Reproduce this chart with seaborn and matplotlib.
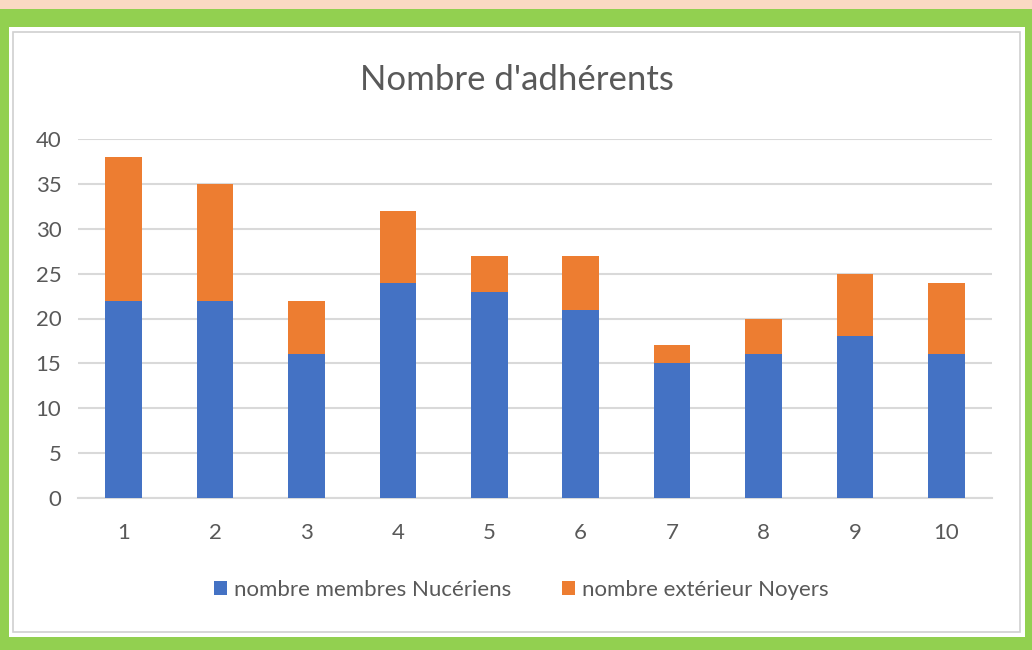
import pandas as pd
import matplotlib.pyplot as plt
import seaborn as sns
from matplotlib.patches import Rectangle

# data
categories = ['1', '2', '3', '4', '5', '6', '7', '8', '9', '10']
nucériens = [22, 22, 16, 24, 23, 21, 15, 16, 18, 16]
exterieur = [16, 13, 6, 8, 4, 6, 2, 4, 7, 8]

df = pd.DataFrame({'groupe': categories, 'nuc': nucériens, 'ext': exterieur})
df['total'] = df['nuc'] + df['ext']

sns.set_style('white')
plt.rcParams['font.family'] = ['Lato', 'DejaVu Sans']
grey = '#595959'

fig = plt.figure(figsize=(10.32, 6.5), dpi=100)
fig.patch.set_facecolor('#92D050')
# peach strip on top + white sheet + chart frame
fig.patches.append(Rectangle((0, 1 - 9 / 650), 1, 9 / 650, transform=fig.transFigure,
                             facecolor='#FAD9C3', edgecolor='none', zorder=-2))
fig.patches.append(Rectangle((9 / 1032, 13 / 650), 1016 / 1032, 610 / 650, transform=fig.transFigure,
                             facecolor='white', edgecolor='none', zorder=-2))
fig.patches.append(Rectangle((13 / 1032, 18 / 650), 1007 / 1032, 600 / 650, transform=fig.transFigure,
                             facecolor='white', edgecolor='#D0D0D0', lw=1.2, zorder=-1))

ax = fig.add_axes([78 / 1032, 1 - 498 / 650, 914 / 1032, 359 / 650])
ax.set_zorder(1)
ax.set_facecolor('none')

# stacked look: totals in orange, Nucériens in blue over them
sns.barplot(data=df, x='groupe', y='total', color='#ED7D31', width=0.4, linewidth=0,
            saturation=1, ax=ax, zorder=3, label='nombre extérieur Noyers')
sns.barplot(data=df, x='groupe', y='nuc', color='#4472C4', width=0.4, linewidth=0,
            saturation=1, ax=ax, zorder=4, label='nombre membres Nucériens')
if ax.get_legend() is not None:
    ax.get_legend().remove()

ax.set_ylim(0, 40)
ax.set_xlim(-0.5, 9.5)
ax.set_yticks(range(0, 41, 5))
ax.yaxis.grid(True, color='#D9D9D9', lw=1.5, zorder=0)
ax.set_axisbelow(True)
for s in ['top', 'right', 'left']:
    ax.spines[s].set_visible(False)
ax.spines['bottom'].set_color('#D9D9D9')
ax.spines['bottom'].set_linewidth(1.5)
ax.tick_params(axis='both', length=0, labelsize=16, labelcolor=grey)
ax.tick_params(axis='x', pad=18)
ax.tick_params(axis='y', pad=12)
ax.set_xlabel('')
ax.set_ylabel('')

fig.text(517 / 1032, 1 - 80 / 650, "Nombre d'adhérents", ha='center', va='center',
         fontsize=25, color=grey)

h, l = ax.get_legend_handles_labels()
order = [l.index('nombre membres Nucériens'), l.index('nombre extérieur Noyers')]
leg = fig.legend([h[i] for i in order], [l[i] for i in order], loc='center',
                 bbox_to_anchor=(521 / 1032, 1 - 590 / 650), ncol=2, frameon=False,
                 fontsize=16, handlelength=0.6, handleheight=0.6, handletextpad=0.3,
                 columnspacing=2.3)
for t in leg.get_texts():
    t.set_color(grey)

fig.savefig('out.png', dpi=100, facecolor=fig.get_facecolor())
